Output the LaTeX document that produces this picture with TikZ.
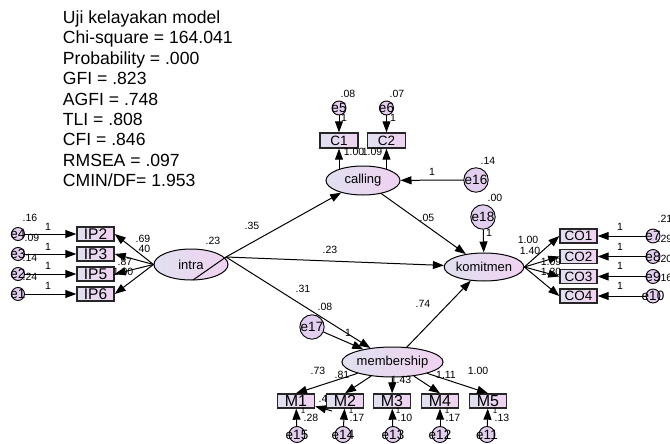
\documentclass[tikz,border=0pt]{standalone}
\usepackage{fontspec}
\setmainfont{Liberation Sans}
\usetikzlibrary{shapes.geometric,arrows.meta}
\definecolor{shL}{RGB}{224,224,240}
\definecolor{shR}{RGB}{240,210,240}
\definecolor{errfill}{RGB}{226,206,238}
\tikzset{
  lat/.style={ellipse, draw=black, line width=1pt, left color=shL, right color=shR,
    inner sep=0pt, font=\fontsize{13}{13}\selectfont},
  obs/.style={rectangle, draw=black!85, line width=1.4pt, left color=shL, right color=shR,
    minimum width=37pt, minimum height=14pt, inner sep=0pt},
  err/.style={circle, draw=black, line width=0.9pt, fill=errfill, inner sep=0pt,
    font=\fontsize{13.5}{13.5}\selectfont},
  lbl/.style={inner sep=0pt, font=\fontsize{10.5}{10.5}\selectfont},
  tinylbl/.style={inner sep=0pt, font=\fontsize{8}{8}\selectfont},
  arr/.style={-{Triangle[length=11pt,width=8pt]}, line width=1pt},
}
\newcommand\ev[1]{\makebox[0pt]{#1}}
\newcommand\lab[3]{\node[lbl] (#1) at (#2) {#3};}
\newcommand\tlab[3]{\node[tinylbl] (#1) at (#2) {#3};}
\begin{document}
\begin{tikzpicture}[x=1pt,y=-1pt]
\useasboundingbox (0,0) rectangle (670,444);

% fit statistics
\node[anchor=north west, align=left, inner sep=0pt, font=\fontsize{17.6}{20.4}\selectfont]
  (stats) at (62.7,10.6) {Uji kelayakan model\\Chi-square = 164.041\\Probability = .000\\GFI = .823\\AGFI = .748\\TLI = .808\\CFI = .846\\RMSEA = .097\\CMIN/DF= 1.953};

% latent variables
\node[lat, minimum width=74pt, minimum height=31pt] (intra) at (191,264.5) {intra};
\node[lat, minimum width=74pt, minimum height=29pt] (calling) at (363,180.5) {calling};
\node[lat, minimum width=76pt, minimum height=28pt] (komitmen) at (484,267) {komitmen};
\node[lat, minimum width=75pt, minimum height=30pt] (membership) at (392.5,362) {membership};

% indicators of intra
\begin{scope}[every node/.append style={font=\fontsize{15.5}{15.5}\selectfont}]
\node[obs] (IP2) at (95.5,234) {IP2};
\node[obs] (IP3) at (95.5,254) {IP3};
\node[obs] (IP5) at (95.5,274) {IP5};
\node[obs] (IP6) at (95.5,294) {IP6};
\end{scope}
\node[err, minimum size=13pt] (e4) at (18,234) {\ev{e4}};
\node[err, minimum size=13pt] (e3) at (18,254) {\ev{e3}};
\node[err, minimum size=13pt] (e2) at (18,274) {\ev{e2}};
\node[err, minimum size=13pt] (e1) at (18,294) {\ev{e1}};

% indicators of calling
\begin{scope}[every node/.append style={font=\fontsize{13.5}{13.5}\selectfont}]
\node[obs, minimum width=38pt, minimum height=15pt] (C1) at (339,140.5) {C1};
\node[obs, minimum width=38pt, minimum height=15pt] (C2) at (386.5,140.5) {C2};
\end{scope}
\node[err, minimum size=14pt] (e5) at (339,108) {\ev{e5}};
\node[err, minimum size=14pt] (e6) at (386.5,108) {\ev{e6}};

% structural disturbances
\node[err, minimum size=24pt] (e16) at (476,180) {e16};
\node[err, minimum size=22pt] (e18) at (483,217) {e18};
\node[err, minimum size=22pt] (e17) at (312,327) {e17};

% indicators of komitmen
\begin{scope}[every node/.append style={font=\fontsize{13.5}{13.5}\selectfont}]
\node[obs] (CO1) at (578.5,236) {CO1};
\node[obs] (CO2) at (578.5,256.5) {CO2};
\node[obs] (CO3) at (578.5,276.5) {CO3};
\node[obs] (CO4) at (578.5,296) {CO4};
\end{scope}
\node[err, minimum size=14pt] (e7) at (653,236) {\ev{e7}};
\node[err, minimum size=14pt] (e8) at (653,256.5) {\ev{e8}};
\node[err, minimum size=14pt] (e9) at (653,276.5) {\ev{e9}};
\node[err, minimum size=14pt] (e10) at (653,296) {\ev{e10}};

% indicators of membership
\lab{l47}{326,399}{.47}
\begin{scope}[every node/.append style={font=\fontsize{16}{16}\selectfont}]
\node[obs] (M1) at (296,401) {M1};
\node[obs] (M2) at (345,401) {M2};
\node[obs] (M3) at (392,401) {M3};
\node[obs] (M4) at (440,401) {M4};
\node[obs] (M5) at (488,401) {M5};
\end{scope}
\node[err, minimum size=16pt] (e15) at (297,434.5) {\ev{e15}};
\node[err, minimum size=16pt] (e14) at (343,434.5) {\ev{e14}};
\node[err, minimum size=16pt] (e13) at (393,434.5) {\ev{e13}};
\node[err, minimum size=16pt] (e12) at (440,434.5) {\ev{e12}};
\node[err, minimum size=16pt] (e11) at (487,434.5) {\ev{e11}};

% connectors
\coordinate (isrc) at (226,257);
\coordinate (iend) at (193,280);
\draw[line width=1pt] (isrc) -- (iend);
\foreach \b in {IP2,IP3,IP5,IP6} \draw[arr] (intra.west) -- (\b.east);
\foreach \e/\b in {e4/IP2,e3/IP3,e2/IP5,e1/IP6} \draw[arr] (\e) -- (\b);
\draw[arr] (isrc) -- (calling);
\draw[arr] (isrc) -- (komitmen);
\draw[arr] (isrc) -- (membership);
\draw[arr] (calling) -- (komitmen);
\draw[arr] (membership) -- (komitmen);
\draw[arr] (e16) -- (calling);
\draw[arr] (e18) -- (komitmen);
\draw[arr] (e17) -- (membership);
\coordinate (c1s) at (339,169.5);
\coordinate (c2s) at (386.5,169.3);
\draw[arr] (c1s) -- (C1);
\draw[arr] (c2s) -- (C2);
\draw[arr] (e5) -- (C1);
\draw[arr] (e6) -- (C2);
\foreach \b in {CO1,CO2,CO3,CO4} \draw[arr] (komitmen.east) -- (\b.west);
\foreach \e/\b in {e7/CO1,e8/CO2,e9/CO3,e10/CO4} \draw[arr] (\e) -- (\b);
\foreach \b in {M1,M2,M4,M5} \draw[arr] (membership) -- (\b.north);
\draw[arr] (membership) -- (M3);
\foreach \e/\b in {e15/M1,e14/M2,e13/M3,e12/M4,e11/M5} \draw[arr] (\e) -- (\b);
\coordinate (m21) at (332,411);
\draw[arr] (m21) -- (M1);

% estimates
\lab{l1}{213,241}{.23}
\lab{l2}{252,226}{.35}
\lab{l3}{330,250}{.23}
\lab{l4}{303,289}{.31}
\lab{l5}{325,307}{.08}
\lab{l6}{348,333}{1}
\lab{l7}{423,304}{.74}
\lab{l8}{427,218}{.05}
\lab{l9}{495,198}{.00}
\lab{l10}{489,233}{1}
\lab{l11}{488,161}{.14}
\lab{l12}{432,172}{1}
\lab{l13}{348,94}{.08}
\lab{l14}{397,94}{.07}
\lab{l15}{344,118}{1}
\lab{l16}{393,118}{1}
\lab{l17}{354,152}{1.00}
\lab{l18}{372,152}{1.09}
% intra loadings and error variances
\lab{l19}{143,239}{.69}
\lab{l20}{143,249}{.40}
\lab{l21}{125,262}{.87}
\lab{l22}{123,272}{1.00}
\lab{l23}{30,218}{.16}
\lab{l24}{32,238}{.09}
\lab{l25}{30,258}{.14}
\lab{l26}{30,277}{.24}
\lab{l27}{48,227}{1}
\lab{l28}{48,247}{1}
\lab{l29}{48,266}{1}
\lab{l30}{48,286}{1}
% komitmen loadings and error variances
\lab{l31}{528,240}{1.00}
\lab{l32}{530,251}{1.40}
\lab{l33}{551,262}{1.09}
\lab{l34}{551,272}{1.30}
\lab{l35}{620,227}{1}
\lab{l36}{620,247}{1}
\lab{l37}{620,266}{1}
\lab{l38}{620,286}{1}
\lab{l39}{665,219}{.21}
\lab{l40}{665,239}{.29}
\lab{l41}{665,259}{.20}
\lab{l42}{665,278}{.16}
% membership loadings and error variances
\lab{l43}{318,371}{.73}
\lab{l44}{342,375}{.81}
\lab{l45}{401,380}{1.43}
\lab{l46}{446,375}{1.11}
\lab{l48}{478,371}{1.00}
\tlab{t1}{303,411}{1}
\tlab{t2}{351,411}{1}
\tlab{t3}{398,411}{1}
\tlab{t4}{447,411}{1}
\tlab{t5}{495,411}{1}
\lab{l49}{311,418}{.28}
\lab{l50}{357,418}{.17}
\lab{l51}{405,418}{.10}
\lab{l52}{453,418}{.17}
\lab{l53}{502,418}{.13}
\end{tikzpicture}
\end{document}
